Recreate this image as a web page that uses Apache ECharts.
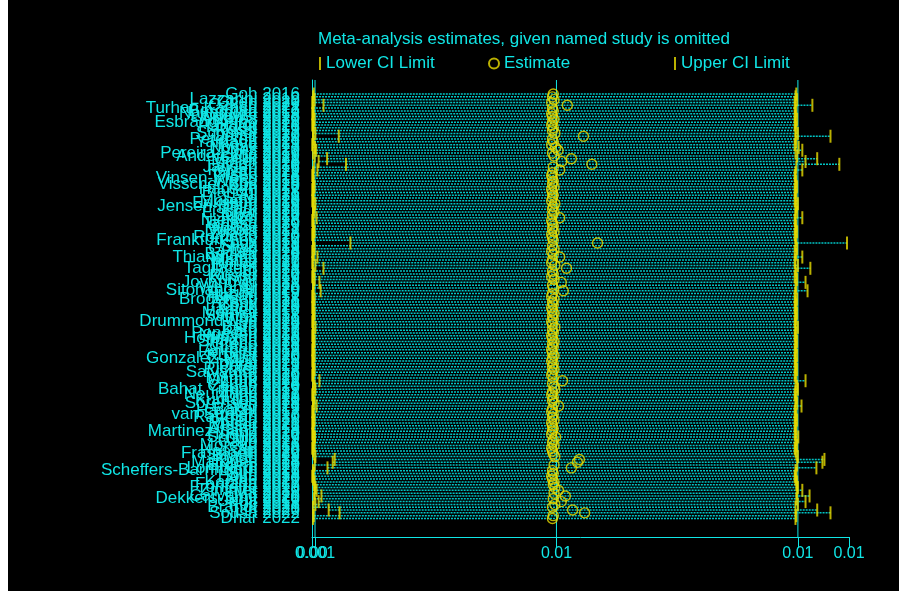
<!DOCTYPE html>
<html>
<head>
<meta charset="utf-8">
<script src="https://cdn.jsdelivr.net/npm/echarts@6/dist/echarts.min.js"></script>
<style>
html,body{margin:0;padding:0;background:#ffffff;}
#bg{position:absolute;left:8px;top:0;width:891px;height:591px;background:#000;}
#chart{position:absolute;left:0;top:0;width:899px;height:609px;}
</style>
</head>
<body>
<div id="bg"></div>
<div id="chart"></div>
<script>
const studies = [
"Goh 2016","Breuer 2018","Lazzarini 2019","Chen 2020","Ozkan 2021","Turhan Karaca 2022","Bergman 2017","Nakamura 2019","Lindqvist 2018","Alvarez 2020",
"Esbrand-Pino 2018","Okafor 2021","Haddad 2016","Rossi 2019","Schmidt 2017","Demir 2020","Petersen 2018","Yamada 2021","Kaya 2019","Novak 2017",
"Lopez 2020","Pereira-Lima 2017","Andersson 2019","Celik 2021","Moller 2018","Singh 2020","Jansen 2016","Ferrari 2019","Costa 2021","Olsen 2018",
"Vinsen-Kroes 2016","Wang 2019","Visscher-Bos 2019","Kim 2020","Hansen 2017","Bianchi 2018","Ali 2021","Sato 2019","Moreno 2020","Eriksson 2016",
"Jensen-Holm 2018","Park 2021","Fischer 2019","Iqbal 2020","Ricci 2017","Nielsen 2018","Tanaka 2020","Garcia 2019","Weber 2021","Dubois 2017",
"Zhang 2018","Romano 2020","Frankfurt-Ley 2017","Koch 2019","Silva 2021","Gorski 2019","Lee 2018","Becker 2020","Thianthong 2018","Martin 2017",
"Yilmaz 2021","Bauer 2019","Tagliaferri 2021","Ito 2018","Meyer 2020","Russo 2017","Kumar 2019","Jovanovic 2021","Li 2018","Wagner 2020",
"Sitohang-Aji 2020","Suzuki 2019","Hoang 2017","Brodersen 2018","Aksoy 2021","Conti 2019","Khan 2020","Larsen 2016","Mueller 2017","Santos 2018",
"Wolf 2021","Drummond-Lee 2019","Liu 2020","Berg 2018","Kato 2017","Popescu 2021","Nguyen 2019","Hoffmann 2016","Sharma 2020","Greco 2018",
"Lang 2021","Ahmed 2019","Ferreira 2017","Kruger 2020","Gonzalez-Ruiz 2020","Mori 2018","Horvat 2021","Patel 2019","Richter 2017","Salvatore 2018",
"Yang 2020","Marino 2019","Ozturk 2021","Lund 2018","Cohen 2020","Bahat Yilmaz 2019","Zhou 2017","Neumann 2021","Dias 2019","Kurtulus 2020",
"Sorensen 2018","Wu 2021","Baker 2019","Hayashi 2017","van Stralen 2017","Rahman 2020","Klein 2018","Rocha 2021","Visser 2021","Arslan 2019",
"Martinez-Sanz 2018","Huang 2020","Schulz 2017","Ono 2019","Gallo 2021","Moreau 2016","Xu 2018","Hassan 2020","Frassinelli 2022","Braun 2019",
"Kwon 2021","Marques 2018","Erdem 2020","Lombardi 2017","Scheffers-Barnhoorn 2021","Sun 2019","Holm 2018","Abe 2020","Kaplan 2021","Fontana 2017",
"Fronteira 2019","Zimmer 2020","Ma 2018","Carvalho 2021","Dekkers-Smit 2020","Ueda 2019","Koc 2018","Brandt 2021","Lin 2020","Sousa 2022",
"Turhan Dogan 2021","Dhar 2022"
];

const estimate = [
0.00692,0.00690,0.00694,0.00688,0.00727,0.00690,0.00692,0.00688,0.00690,0.00694,
0.00690,0.00688,0.00692,0.00690,0.00696,0.00767,0.00690,0.00692,0.00688,0.00698,
0.00704,0.00690,0.00694,0.00737,0.00713,0.00788,0.00692,0.00708,0.00690,0.00688,
0.00690,0.00692,0.00690,0.00694,0.00688,0.00690,0.00692,0.00690,0.00688,0.00696,
0.00692,0.00690,0.00694,0.00690,0.00708,0.00688,0.00690,0.00692,0.00690,0.00694,
0.00688,0.00690,0.00692,0.00802,0.00690,0.00694,0.00688,0.00692,0.00708,0.00690,
0.00688,0.00696,0.00725,0.00690,0.00692,0.00688,0.00694,0.00712,0.00690,0.00692,
0.00717,0.00690,0.00688,0.00694,0.00690,0.00692,0.00688,0.00690,0.00694,0.00690,
0.00692,0.00688,0.00690,0.00696,0.00690,0.00692,0.00688,0.00690,0.00694,0.00690,
0.00692,0.00688,0.00690,0.00694,0.00690,0.00688,0.00692,0.00690,0.00694,0.00690,
0.00688,0.00692,0.00715,0.00690,0.00694,0.00696,0.00690,0.00688,0.00692,0.00690,
0.00694,0.00705,0.00690,0.00688,0.00692,0.00690,0.00694,0.00688,0.00690,0.00692,
0.00690,0.00688,0.00698,0.00692,0.00690,0.00694,0.00688,0.00690,0.00692,0.00696,
0.00757,0.00752,0.00694,0.00737,0.00690,0.00692,0.00688,0.00690,0.00694,0.00692,
0.00696,0.00705,0.00694,0.00722,0.00692,0.00712,0.00696,0.00690,0.00740,0.00770,
0.00692,0.00690
];

const lowerCI = [
0.00097,0.00095,0.00099,0.00093,0.00121,0.00095,0.00097,0.00093,0.00095,0.00099,
0.00095,0.00093,0.00097,0.00095,0.00101,0.00159,0.00095,0.00097,0.00093,0.00100,
0.00103,0.00095,0.00099,0.00130,0.00109,0.00177,0.00097,0.00106,0.00095,0.00093,
0.00095,0.00097,0.00095,0.00099,0.00093,0.00095,0.00097,0.00095,0.00093,0.00101,
0.00097,0.00095,0.00099,0.00095,0.00104,0.00093,0.00095,0.00097,0.00095,0.00099,
0.00093,0.00095,0.00097,0.00188,0.00095,0.00099,0.00093,0.00097,0.00106,0.00095,
0.00093,0.00101,0.00121,0.00095,0.00097,0.00093,0.00099,0.00111,0.00095,0.00097,
0.00114,0.00095,0.00093,0.00099,0.00095,0.00097,0.00093,0.00095,0.00099,0.00095,
0.00097,0.00093,0.00095,0.00101,0.00095,0.00097,0.00093,0.00095,0.00099,0.00095,
0.00097,0.00093,0.00095,0.00099,0.00095,0.00093,0.00097,0.00095,0.00099,0.00095,
0.00093,0.00097,0.00111,0.00095,0.00099,0.00101,0.00095,0.00093,0.00097,0.00095,
0.00099,0.00104,0.00095,0.00093,0.00097,0.00095,0.00099,0.00093,0.00095,0.00097,
0.00095,0.00093,0.00100,0.00097,0.00095,0.00099,0.00093,0.00095,0.00097,0.00101,
0.00149,0.00144,0.00099,0.00131,0.00095,0.00097,0.00093,0.00095,0.00099,0.00097,
0.00101,0.00104,0.00099,0.00116,0.00097,0.00109,0.00101,0.00095,0.00134,0.00161,
0.00097,0.00095
];

const upperCI = [
0.01296,0.01294,0.01298,0.01292,0.01336,0.01294,0.01296,0.01292,0.01294,0.01298,
0.01294,0.01292,0.01296,0.01294,0.01300,0.01381,0.01294,0.01296,0.01292,0.01302,
0.01311,0.01294,0.01298,0.01348,0.01319,0.01403,0.01296,0.01311,0.01294,0.01292,
0.01294,0.01296,0.01294,0.01298,0.01292,0.01294,0.01296,0.01294,0.01292,0.01300,
0.01296,0.01294,0.01298,0.01294,0.01311,0.01292,0.01294,0.01296,0.01294,0.01298,
0.01292,0.01294,0.01296,0.01422,0.01294,0.01298,0.01292,0.01296,0.01311,0.01294,
0.01292,0.01300,0.01331,0.01294,0.01296,0.01292,0.01298,0.01319,0.01294,0.01296,
0.01324,0.01294,0.01292,0.01298,0.01294,0.01296,0.01292,0.01294,0.01298,0.01294,
0.01296,0.01292,0.01294,0.01300,0.01294,0.01296,0.01292,0.01294,0.01298,0.01294,
0.01296,0.01292,0.01294,0.01298,0.01294,0.01292,0.01296,0.01294,0.01298,0.01294,
0.01292,0.01296,0.01319,0.01294,0.01298,0.01300,0.01294,0.01292,0.01296,0.01294,
0.01298,0.01309,0.01294,0.01292,0.01296,0.01294,0.01298,0.01292,0.01294,0.01296,
0.01294,0.01292,0.01301,0.01296,0.01294,0.01298,0.01292,0.01294,0.01296,0.01300,
0.01366,0.01361,0.01298,0.01346,0.01294,0.01296,0.01292,0.01294,0.01298,0.01296,
0.01300,0.01311,0.01298,0.01329,0.01296,0.01319,0.01300,0.01294,0.01348,0.01381,
0.01296,0.01294
];

// overall (all studies) lower CI, estimate and upper CI: reference lines
const overallLines = [0.0010, 0.0070, 0.0130];
const xMin = 0.000925, xMax = 0.01427;
const xTickValues = [0.000925, 0.0070, 0.0130, 0.01427];
const xTickLabels = ["0.00", "0.01", "0.01", "0.01"];
const xTickValues2 = [0.0010];
const xTickLabels2 = ["0.001"];

const CYAN = '#10E6E6';
const DOT = '#00C4C4';
const YEL = '#E8DC00';
const FONT = '"Liberation Sans", Arial, Helvetica, sans-serif';

const idx = studies.map((_, i) => i);
const lineData = studies.map((_, i) => [lowerCI[i], upperCI[i], i]);
const lowData = studies.map((_, i) => [lowerCI[i], i]);
const estData = studies.map((_, i) => [estimate[i], i]);
const upData = studies.map((_, i) => [upperCI[i], i]);
const refData = overallLines.map(v => [v, 0]);

function pickLabel(vals, labels) {
  return function (v) {
    let best = 0;
    for (let k = 1; k < vals.length; k++) {
      if (Math.abs(vals[k] - v) < Math.abs(vals[best] - v)) best = k;
    }
    return labels[best];
  };
}

const chart = echarts.init(document.getElementById('chart'), null, {renderer: 'canvas'});
const legendCommon = {
  top: 50, orient: 'horizontal', selectedMode: false,
  textStyle: {color: CYAN, fontSize: 17, fontFamily: FONT}
};
chart.setOption({
  backgroundColor: 'transparent',
  animation: false,
  title: {
    text: 'Meta-analysis estimates, given named study is omitted',
    left: 313, top: 26,
    textStyle: {color: CYAN, fontSize: 17, fontWeight: 'normal', fontFamily: FONT}
  },
  legend: [
    Object.assign({left: 314, data: ['Lower CI Limit'], itemWidth: 2, itemHeight: 13}, legendCommon),
    Object.assign({left: 483, data: ['Estimate'], itemWidth: 10, itemHeight: 10}, legendCommon),
    Object.assign({left: 669, data: ['Upper CI Limit'], itemWidth: 2, itemHeight: 13}, legendCommon)
  ],
  grid: {left: 312, right: 50, top: 80, bottom: 72, containLabel: false},
  xAxis: [{
    type: 'value', min: xMin, max: xMax, position: 'bottom',
    axisLine: {show: true, onZero: false, lineStyle: {color: CYAN, width: 1}},
    axisTick: {show: true, length: 11, customValues: xTickValues, lineStyle: {color: CYAN, width: 1}},
    axisLabel: {
      customValues: xTickValues, color: CYAN, fontSize: 16, fontFamily: FONT, margin: 9,
      showMinLabel: true, showMaxLabel: true,
      formatter: pickLabel(xTickValues, xTickLabels)
    },
    splitLine: {show: false}
  }, {
    type: 'value', min: xMin, max: xMax, position: 'bottom', offset: 0,
    axisLine: {show: false, onZero: false},
    axisTick: {show: true, length: 11, customValues: xTickValues2, lineStyle: {color: CYAN, width: 1}},
    axisLabel: {
      customValues: xTickValues2, color: CYAN, fontSize: 16, fontFamily: FONT, margin: 9,
      showMinLabel: true, showMaxLabel: true,
      formatter: pickLabel(xTickValues2, xTickLabels2)
    },
    splitLine: {show: false}
  }],
  yAxis: {
    type: 'value', inverse: true, min: -5, max: 157.6,
    axisLine: {show: true, onZero: false, lineStyle: {color: CYAN, width: 1}},
    axisTick: {show: false},
    splitLine: {show: false},
    axisLabel: {
      customValues: idx, color: CYAN, fontSize: 17, fontFamily: FONT, margin: 12,
      showMinLabel: true, showMaxLabel: true,
      formatter: function (v) { return studies[Math.round(v)] || ''; }
    }
  },
  series: [
    {
      name: 'CI', type: 'custom', silent: true, z: 1,
      encode: {x: [0, 1], y: 2},
      data: lineData,
      renderItem: function (params, api) {
        const p1 = api.coord([api.value(0), api.value(2)]);
        const p2 = api.coord([api.value(1), api.value(2)]);
        return {type: 'line', shape: {x1: p1[0], y1: p1[1], x2: p2[0], y2: p2[1]},
          style: {stroke: DOT, lineWidth: 1.5, lineDash: [2, 1]}};
      }
    },
    {
      name: 'Overall', type: 'custom', silent: true, z: 2,
      encode: {x: 0, y: 1},
      data: refData,
      renderItem: function (params, api) {
        const p = api.coord([api.value(0), api.value(1)]);
        const cs = params.coordSys;
        return {type: 'line', shape: {x1: p[0], y1: cs.y, x2: p[0], y2: cs.y + cs.height},
          style: {stroke: CYAN, lineWidth: 1}};
      }
    },
    {
      name: 'Lower CI Limit', type: 'scatter', symbol: 'rect', symbolSize: [2, 13], z: 3,
      itemStyle: {color: YEL}, data: lowData, silent: true
    },
    {
      name: 'Estimate', type: 'scatter', symbol: 'circle', symbolSize: 10, z: 4,
      itemStyle: {color: 'rgba(0,0,0,0)', borderColor: YEL, borderWidth: 1.4}, data: estData, silent: true
    },
    {
      name: 'Upper CI Limit', type: 'scatter', symbol: 'rect', symbolSize: [2, 13], z: 3,
      itemStyle: {color: YEL}, data: upData, silent: true
    }
  ]
});
</script>
</body>
</html>
